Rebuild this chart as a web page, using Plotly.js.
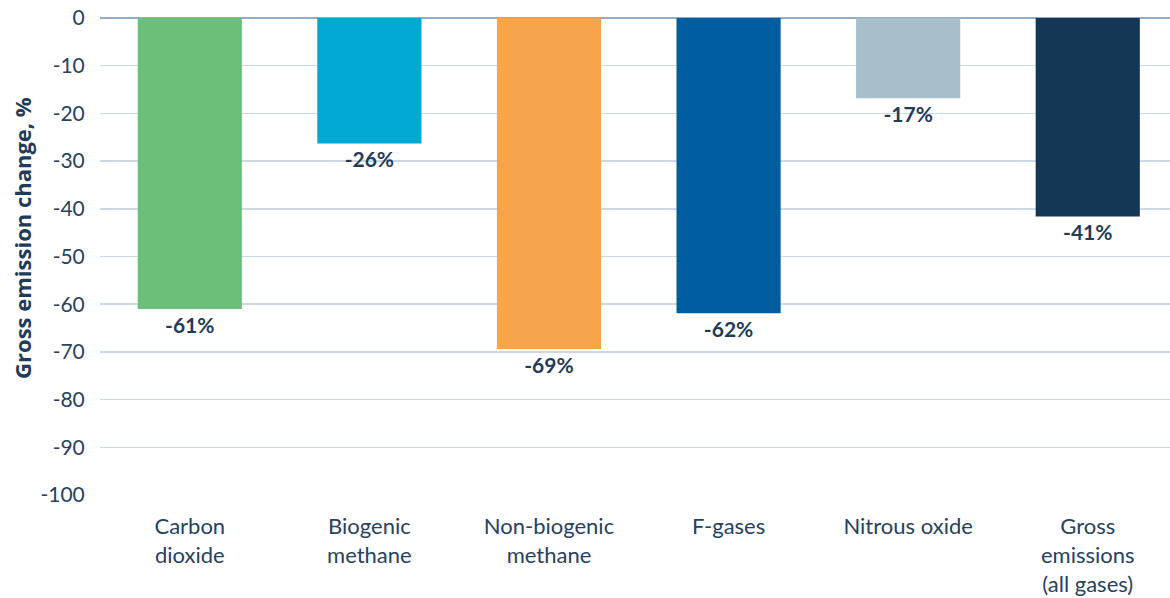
<!DOCTYPE html>
<html>
<head>
<meta charset="utf-8">
<script src="https://cdn.plot.ly/plotly-3.0.1.min.js"></script>
<style>html,body{margin:0;padding:0;background:#fff;}#chart{width:1170px;height:598px;}</style>
</head>
<body>
<div id="chart"></div>
<script>
const categories = ["Carbon<br>dioxide", "Biogenic<br>methane", "Non-biogenic<br>methane", "F-gases", "Nitrous oxide", "Gross<br>emissions<br>(all gases)"];
const values = [-61.0, -26.3, -69.4, -61.9, -16.8, -41.6];
const valueLabels = ["-61%", "-26%", "-69%", "-62%", "-17%", "-41%"];
const barColors = ["#6BBF78", "#00A9D4", "#F7A54A", "#005EA0", "#A7BFCA", "#133755"];
const yTicks = [0, -10, -20, -30, -40, -50, -60, -70, -80, -90, -100];
const yTitle = "Gross emission change, %";

const navy = "#1F3B5A";
const fontFam = "Lato, 'Open Sans', sans-serif";

const trace = {
  type: "bar",
  x: categories,
  y: values,
  text: valueLabels,
  textposition: "outside",
  texttemplate: "%{text}",
  textfont: {family: fontFam, size: 21, color: navy, weight: "bold"},
  cliponaxis: false,
  marker: {color: barColors},
  width: 0.58,
  hoverinfo: "x+y"
};

const layout = {
  width: 1170,
  height: 598,
  margin: {l: 100, r: 0, t: 18, b: 103},
  paper_bgcolor: "#ffffff",
  plot_bgcolor: "#ffffff",
  showlegend: false,
  font: {family: fontFam, color: navy, size: 20},
  xaxis: {
    type: "category",
    range: [-0.5, 5.458],
    showgrid: false,
    zeroline: false,
    showline: false,
    ticks: "outside",
    ticklen: 12,
    tickcolor: "rgba(0,0,0,0)",
    tickfont: {family: fontFam, size: 22, color: "#26425F"},
    fixedrange: true
  },
  yaxis: {
    range: [-100, 0],
    tickvals: yTicks,
    ticktext: yTicks.map(String),
    showgrid: true,
    gridcolor: "#CCD9E3",
    gridwidth: 1.5,
    zeroline: true,
    zerolinecolor: "#93AEC4",
    zerolinewidth: 2,
    showline: false,
    ticks: "outside",
    ticklen: 10,
    tickcolor: "rgba(0,0,0,0)",
    tickfont: {family: fontFam, size: 21, color: "#26425F"},
    fixedrange: true
  },
  annotations: [{
    text: yTitle,
    xref: "paper", yref: "paper",
    x: -0.0729, y: 0.539,
    xanchor: "center", yanchor: "middle",
    textangle: -90,
    showarrow: false,
    font: {family: "'Open Sans', sans-serif", size: 22, color: navy, weight: "bold"}
  }]
};

Plotly.newPlot("chart", [trace], layout, {displayModeBar: false, staticPlot: true});
</script>
</body>
</html>
